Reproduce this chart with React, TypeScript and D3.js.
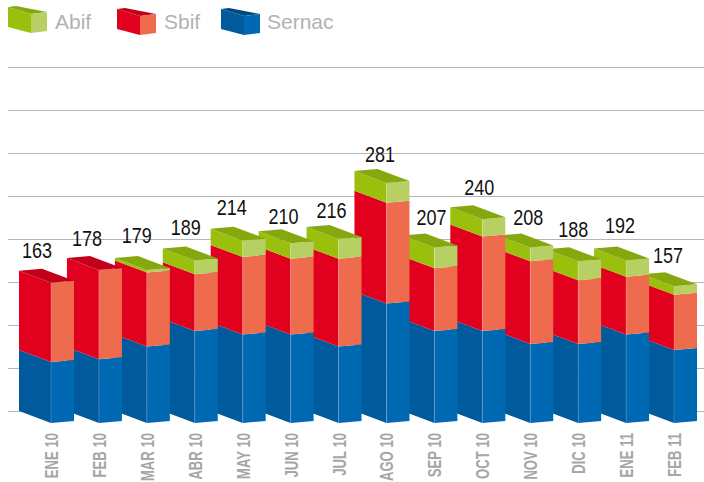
import React from "react";
import * as d3 from "d3";

const months = ["ENE 10","FEB 10","MAR 10","ABR 10","MAY 10","JUN 10","JUL 10","AGO 10","SEP 10","OCT 10","NOV 10","DIC 10","ENE 11","FEB 11"];
const totals = [163,178,179,189,214,210,216,281,207,240,208,188,192,157];
const sernac = [71,74,89,107,103,103,89,139,107,107,92,92,103,85];
const sbif = [92,104,86,66,90,88,102,117,73,110,96,74,67,64];
const abif = [0,0,3,16,19,18,23,23,24,20,16,22,19,10];
const gridTicks = [0,50,100,150,200,250,300,350,400];
const labelNudgeX = [-14,-12,-10,-9,-11,-7,-7,-6.5,-3,-3,-2,-5,-6,-6];
const labelNudgeY = [-26,-25,-27,-26,-25,-19,-20,-20,-21,-23,-20,-25,-26,-26];

const colors: Record<string, {left:string;right:string;top:string}> = {
  abif: { left: "#9AC00D", right: "#B7CF63", top: "#86A80F" },
  sbif: { left: "#E2001F", right: "#EE6C4D", top: "#C2001B" },
  sernac: { left: "#005A9C", right: "#0069B3", top: "#004a80" },
};
const legendItems = [
  { key: "abif", label: "Abif", x: 8, tx: 55, y: 7, h: 20 },
  { key: "sbif", label: "Sbif", x: 117, tx: 164, y: 9, h: 20 },
  { key: "sernac", label: "Sernac", x: 221, tx: 267, y: 9, h: 20 },
];

const W = 704, H = 482;
const x = d3.scalePoint<string>().domain(months).range([51, 674]);
const y = d3.scaleLinear().domain([0, 400]).range([411, 67]);
const rows = months.map((m, i) => ({ m, sernac: sernac[i], sbif: sbif[i], abif: abif[i] }));
const stack = d3.stack<any>().keys(["sernac", "sbif", "abif"])(rows);
const line = d3.line();
const poly = (p: [number, number][]) => line(p) + "Z";

const DL = 32, DR = 23, DF = 12, DE = 10;

function Legend() {
  return (
    <g>
      {legendItems.map(it => {
        const c = colors[it.key];
        const fx = it.x + 23, rx = fx + 16;
        const t = it.y, b = it.y + it.h;
        return (
          <g key={it.key}>
            <path d={poly([[it.x, t],[it.x + 8, t - 1],[rx, t + 5],[fx, t + 7]])} fill={c.top} />
            <path d={poly([[it.x, t],[fx, t + 7],[fx, b + 6],[it.x, b]])} fill={c.left} />
            <path d={poly([[fx, t + 7],[rx, t + 5],[rx, b + 4],[fx, b + 6]])} fill={c.right} />
            <text x={it.tx} y={29} fontFamily="'Liberation Sans', Arial, sans-serif" fontSize={21} fill="#b2b2b2">{it.label}</text>
          </g>
        );
      })}
    </g>
  );
}

export default function App() {
  const order = d3.range(months.length).reverse();
  return (
    <svg width={W} height={H} viewBox={`0 0 ${W} ${H}`} style={{ position: "absolute", left: 0, top: 0, background: "#fff" }}>
      <Legend />
      {gridTicks.map(t => (
        <line key={t} x1={8} x2={W} y1={Math.round(y(t)) + 0.5} y2={Math.round(y(t)) + 0.5} stroke="#b5b5b5" strokeWidth={1} />
      ))}
      {order.map(i => {
        const fx = x(months[i])!;
        const lx = fx - DL;
        const rx = fx + DR;
        const visible = stack.map(s => ({ key: s.key, v0: s[i][0], v1: s[i][1] })).filter(s => s.v1 > s.v0);
        const top = visible[visible.length - 1];
        const yt = y(top.v1);
        return (
          <g key={months[i]}>
            {visible.map(s => {
              const c = colors[s.key];
              const a = y(s.v0), b = y(s.v1);
              return (
                <g key={s.key}>
                  <path d={poly([[lx, b],[fx, b + DF],[fx, a + DF],[lx, a]])} fill={c.left} />
                  <path d={poly([[fx, b + DF],[rx, b + DE],[rx, a + DE],[fx, a + DF]])} fill={c.right} />
                </g>
              );
            })}
            <path d={poly([[lx, yt],[lx + 23, yt - 2],[rx, yt + DE],[fx, yt + DF]])} fill={colors[top.key].top} />
            <line x1={fx} x2={fx} y1={yt + DF} y2={y(0) + DF} stroke="#ffffff" strokeOpacity={0.18} strokeWidth={1} />
          </g>
        );
      })}
      {months.map((m, i) => (
        <text key={m + "v"} transform={`translate(${x(m)! + labelNudgeX[i]},${y(totals[i]) + DF + labelNudgeY[i] + 1}) scale(0.8,1)`}
          textAnchor="middle" fontFamily="'Liberation Sans', sans-serif" fontSize={22.5} fill="#111">
          {totals[i]}
        </text>
      ))}
      {months.map(m => (
        <text key={m} transform={`translate(${x(m)! + 7},433) rotate(-90) scale(0.69,1)`} textAnchor="end"
          fontFamily="'Liberation Sans', sans-serif" fontWeight="bold" fontSize={19} fill="#a6a6a6">
          {m}
        </text>
      ))}
    </svg>
  );
}
